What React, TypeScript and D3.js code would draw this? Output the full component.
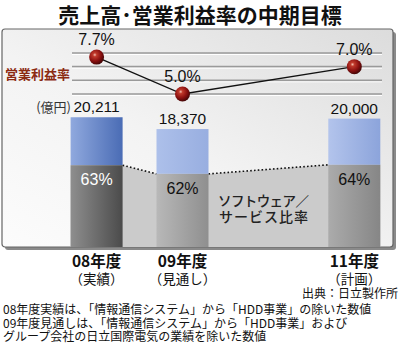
import React from "react";
import * as d3 from "d3";

const title = "売上高･営業利益率の中期目標";
const fiscalYears = [2008, 2009, 2011];
const yearLabels = ["08年度", "09年度", "11年度"];
const yearNotes = ["（実績）", "（見通し）", "（計画）"];
const sales = [20211, 18370, 20000];
const salesLabels = ["20,211", "18,370", "20,000"];
const swShare = [63, 62, 64];
const margin = [7.7, 5.0, 7.0];
const marginGrid = [8, 7, 6, 5];
const footnotes = [
  "08年度実績は、「情報通信システム」から「HDD事業」の除いた数値",
  "09年度見通しは、「情報通信システム」から「HDD事業」および",
  "グループ会社の日立国際電気の業績を除いた数値",
];

const barBlue = [
  ["#90a9de", "#4a6cb5"],
  ["#adc0ea", "#98aee0"],
  ["#b3c4ec", "#8ca4db"],
];
const barGray = [
  ["#8e8e8e", "#4b4b4b"],
  ["#b8b8b8", "#8f8f8f"],
  ["#ababab", "#868686"],
];
const shareTextColor = ["#ffffff", "#111111", "#111111"];

const JP = "'Noto Sans CJK JP', sans-serif";
const NUM = "'Liberation Sans', Arial, sans-serif";

export default function App() {
  const x = d3.scaleLinear().domain([2008, 2011]).range([96.6, 354.3]);
  const ySales = d3.scaleLinear().domain([0, 20000]).range([247, 118.6]);
  const yMargin = d3.scaleLinear().domain([5, 8]).range([94, 53]);
  const bw = 52;

  const bars = fiscalYears.map((fy, i) => {
    const cx = x(fy);
    const sw = (sales[i] * swShare[i]) / 100;
    return {
      cx,
      x0: cx - bw / 2,
      x1: cx + bw / 2,
      top: ySales(sales[i]),
      mid: ySales(sw),
      bottom: ySales(0),
    };
  });

  const areaPts: [number, number][] = [];
  bars.forEach((b) => {
    areaPts.push([b.x0, b.mid]);
    areaPts.push([b.x1, b.mid]);
  });
  const areaPath =
    d3.line()(areaPts) +
    `L${bars[bars.length - 1].x1},${bars[0].bottom}L${bars[0].x0},${bars[0].bottom}Z`;

  const dotSegs = bars.slice(0, -1).map((b, i) => ({
    x1: b.x1,
    y1: b.mid,
    x2: bars[i + 1].x0,
    y2: bars[i + 1].mid,
  }));

  const linePath = d3
    .line<number>()
    .x((_, i) => x(fiscalYears[i]))
    .y((d) => yMargin(d))(margin);

  return (
    <svg width={400} height={355} style={{ position: "absolute", left: 0, top: 0, background: "#fff" }}>
      <defs>
        <linearGradient id="bg" x1="1" y1="0" x2="0" y2="1">
          <stop offset="0" stopColor="#dcdcdc" />
          <stop offset="0.55" stopColor="#f3f3f3" />
          <stop offset="1" stopColor="#fcfcfc" />
        </linearGradient>
        {bars.map((_, i) => (
          <React.Fragment key={i}>
            <linearGradient id={`blue${i}`} x1="0" x2="1" y1="0" y2="0">
              <stop offset="0" stopColor={barBlue[i][0]} />
              <stop offset="1" stopColor={barBlue[i][1]} />
            </linearGradient>
            <linearGradient id={`gray${i}`} x1="0" x2="1" y1="0" y2="0">
              <stop offset="0" stopColor={barGray[i][0]} />
              <stop offset="1" stopColor={barGray[i][1]} />
            </linearGradient>
          </React.Fragment>
        ))}
        <radialGradient id="ball" cx="0.38" cy="0.35" r="0.7">
          <stop offset="0" stopColor="#f4c0b0" />
          <stop offset="0.18" stopColor="#c0392b" />
          <stop offset="0.6" stopColor="#8a1010" />
          <stop offset="1" stopColor="#3a0505" />
        </radialGradient>
      </defs>

      <text x={200} y={23} textAnchor="middle" fontFamily={JP} fontWeight={700} fontSize={21} fill="#111">
        {title}
      </text>

      {/* frame */}
      <rect x={5} y={32} width={391} height={218} rx={3} fill="#8a8a8a" />
      <rect x={2} y={29} width={391} height={218} rx={3} fill="url(#bg)" stroke="#666" strokeWidth={1.2} />

      {/* margin grid */}
      {marginGrid.map((g) => (
        <g key={g}>
          <line x1={72} x2={382} y1={yMargin(g)} y2={yMargin(g)} stroke="#9a9a9a" strokeWidth={1.6} />
          <line x1={72} x2={382} y1={yMargin(g) + 1.5} y2={yMargin(g) + 1.5} stroke="#ffffff" strokeWidth={1} />
        </g>
      ))}
      <text x={5} y={79} fontFamily={JP} fontWeight={700} fontSize={13} fill="#8b2a12">
        営業利益率
      </text>

      {/* software share area */}
      <path d={areaPath} fill="#cbcbcb" />
      {dotSegs.map((s, i) => (
        <line key={i} {...s} stroke="#111" strokeWidth={1.6} strokeDasharray="1.6,2.2" />
      ))}

      {/* bars */}
      {bars.map((b, i) => (
        <g key={i}>
          <rect x={b.x0} y={b.top} width={bw} height={b.mid - b.top} fill={`url(#blue${i})`} />
          <rect x={b.x0} y={b.mid} width={bw} height={b.bottom - b.mid} fill={`url(#gray${i})`} />
          <text x={b.cx} y={b.mid + 20} textAnchor="middle" fontFamily={NUM} fontSize={16} fill={shareTextColor[i]}>
            {swShare[i]}%
          </text>
          <text x={b.cx} y={b.top - 5} textAnchor="middle" fontFamily={NUM} fontSize={15.5} fill="#111">
            {salesLabels[i]}
          </text>
        </g>
      ))}
      <text x={71} y={112} textAnchor="end" fontFamily={JP} fontSize={13} fill="#333">
        (億円)
      </text>

      <text x={218} y={206} fontFamily={JP} fontSize={13.5} fontWeight={500} fill="#222" letterSpacing={-0.6}>
        ソフトウェア／
      </text>
      <text x={219} y={222} fontFamily={JP} fontSize={14} fontWeight={500} fill="#222" letterSpacing={1}>
        サービス比率
      </text>

      {/* margin line */}
      <path d={linePath ?? ""} fill="none" stroke="#111" strokeWidth={1.3} />
      {margin.map((m, i) => (
        <g key={i}>
          <circle cx={x(fiscalYears[i])} cy={yMargin(m)} r={7.5} fill="url(#ball)" />
          <text x={x(fiscalYears[i])} y={yMargin(m) - 12} textAnchor="middle" fontFamily={NUM} fontSize={16} fill="#111">
            {m.toFixed(1)}%
          </text>
        </g>
      ))}

      {/* x labels */}
      {fiscalYears.map((fy, i) => (
        <g key={fy}>
          <text x={x(fy)} y={267} textAnchor="middle" fontFamily={JP} fontWeight={700} fontSize={15.5} fill="#111">
            {yearLabels[i]}
          </text>
          <text x={x(fy)} y={284} textAnchor="middle" fontFamily={JP} fontSize={13.5} fill="#111">
            {yearNotes[i]}
          </text>
        </g>
      ))}

      <text x={398} y={298} textAnchor="end" fontFamily={JP} fontSize={12} fill="#111">
        出典：日立製作所
      </text>

      {footnotes.map((f, i) => (
        <text key={i} x={3} y={314 + i * 13.5} fontFamily={JP} fontSize={12} fill="#111">
          {f}
        </text>
      ))}
    </svg>
  );
}
